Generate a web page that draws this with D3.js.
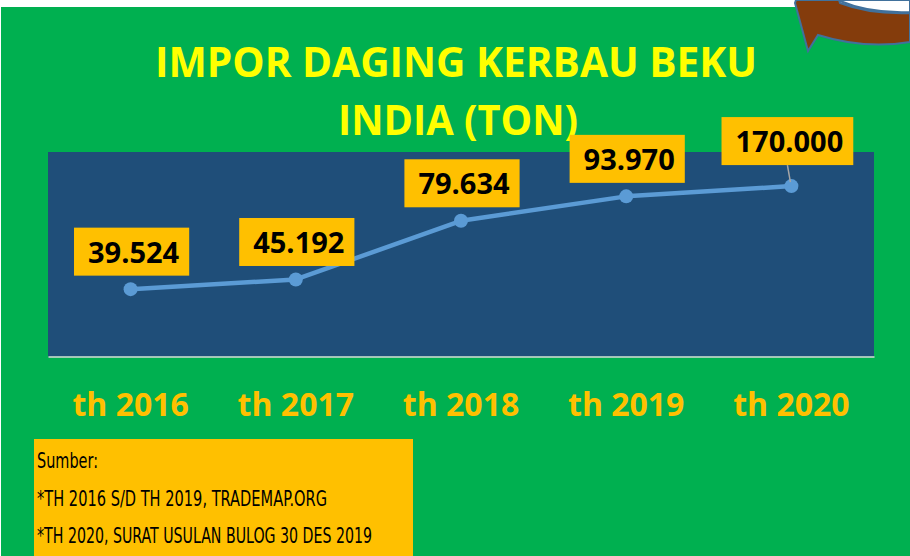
<!DOCTYPE html>
<html>
<head>
<meta charset="utf-8">
<script src="https://cdn.jsdelivr.net/npm/d3@7"></script>
<style>
  html, body { margin: 0; padding: 0; background: #ffffff; }
  svg { display: block; }
</style>
</head>
<body>
<svg id="chart" width="910" height="556"></svg>
<script>
// ---- data ----
const categories = ["th 2016", "th 2017", "th 2018", "th 2019", "th 2020"];
// point positions as drawn in the reference (2020 is plotted at ~100.000)
const plottedValues = [39524, 45192, 79634, 93970, 100000];
// values printed in the data labels
const labelValues = [39524, 45192, 79634, 93970, 170000];
const yDomain = [0, 120000];
const titleLines = ["IMPOR DAGING KERBAU BEKU", "INDIA (TON)"];
const sourceLines = ["Sumber:", "*TH 2016 S/D TH 2019, TRADEMAP.ORG", "*TH 2020, SURAT USULAN BULOG 30 DES 2019"];

// ---- drawing ----
const svg = d3.select("#chart");
const W = 910, H = 556;
const GREEN = "#00B050", PLOT = "#1F4E79", ORANGE = "#FFC000", LINE = "#5B9BD5";
const idLocale = d3.formatLocale({decimal: ",", thousands: ".", grouping: [3], currency: ["Rp", ""]});
const fmt = idLocale.format(",");

svg.append("rect").attr("x", 0).attr("y", 0).attr("width", W).attr("height", H).attr("fill", "#ffffff");
svg.append("rect").attr("x", 1).attr("y", 7).attr("width", W - 1).attr("height", H - 7).attr("fill", GREEN);

// decorative arrow (top right)
svg.append("path")
  .attr("d", "M838,0 C858,9 884,13 910,12 L910,0 Z")
  .attr("fill", "#ffffff").attr("stroke", "#41719C").attr("stroke-width", 2);
svg.append("path")
  .attr("d", "M795,3 L808,51 L818,35 C850,45 880,47 910,42 L910,13 C880,14 858,10 840,3 L839,0 L796,0 Z")
  .attr("fill", "#843C0C").attr("stroke", "#41719C").attr("stroke-width", 2).attr("stroke-linejoin", "miter");

// title
const title = svg.append("g").attr("font-family", "'Open Sans', sans-serif").attr("font-weight", "bold")
  .attr("fill", "#FFFF00").attr("text-anchor", "middle");
title.append("text").attr("x", 456).attr("y", 77).attr("font-size", 42)
  .attr("textLength", 602).attr("lengthAdjust", "spacingAndGlyphs").text(titleLines[0]);
title.append("text").attr("x", 458).attr("y", 135).attr("font-size", 42)
  .attr("textLength", 240).attr("lengthAdjust", "spacingAndGlyphs").text(titleLines[1]);

// plot area
const plotL = 48, plotR = 874, plotT = 152, plotB = 356.5;
svg.append("rect").attr("x", plotL).attr("y", plotT).attr("width", plotR - plotL).attr("height", plotB - plotT).attr("fill", PLOT);

const x = d3.scaleBand().domain(categories).range([plotL, plotR]);
const y = d3.scaleLinear().domain(yDomain).range([plotB, plotT]);

// x axis
const xAxis = svg.append("g").attr("transform", `translate(0,${plotB})`)
  .call(d3.axisBottom(x).tickSize(0).tickPadding(37));
xAxis.select(".domain").attr("stroke", "#D9D9D9").attr("stroke-width", 1.5);
xAxis.selectAll("text")
  .attr("font-family", "'Open Sans', sans-serif").attr("font-weight", "bold")
  .attr("font-size", 32).attr("fill", ORANGE);

const cx = d => x(d) + x.bandwidth() / 2;
const pts = categories.map((c, i) => ({c, v: plottedValues[i], lab: labelValues[i], i}));

// line
svg.append("path").datum(pts)
  .attr("d", d3.line().x(d => cx(d.c)).y(d => y(d.v)))
  .attr("fill", "none").attr("stroke", LINE).attr("stroke-width", 4.5).attr("stroke-linejoin", "round");
svg.selectAll("circle.pt").data(pts).join("circle").attr("class", "pt")
  .attr("cx", d => cx(d.c)).attr("cy", d => y(d.v)).attr("r", 7).attr("fill", LINE);

// data labels
const boxH = 48;
const labels = svg.selectAll("g.lab").data(pts).join("g").attr("class", "lab");
labels.each(function(d) {
  const g = d3.select(this);
  const last = d.i === pts.length - 1;
  const px = cx(d.c), py = y(d.v);
  const bx = last ? px - 4 : px + 1;
  const bottom = last ? py - 21 : py - 13.5;
  const t = g.append("text").attr("font-family", "'Open Sans', sans-serif").attr("font-weight", "bold")
    .attr("font-size", 29).attr("fill", "#000").attr("text-anchor", "middle")
    .text(fmt(d.lab));
  const tw = t.node().getComputedTextLength();
  const bw = tw + 24;
  if (last) {
    g.insert("line", "text").attr("x1", bx).attr("y1", bottom).attr("x2", px - 1).attr("y2", py - 4)
      .attr("stroke", "#A6A6A6").attr("stroke-width", 1.5);
  }
  g.insert("rect", "text").attr("x", bx - bw / 2).attr("y", bottom - boxH).attr("width", bw).attr("height", boxH)
    .attr("fill", ORANGE);
  t.attr("x", bx + 2).attr("y", bottom - boxH / 2 + 11);
});

// source box
svg.append("rect").attr("x", 34).attr("y", 439).attr("width", 379).attr("height", H - 439).attr("fill", ORANGE);
const srcW = [61, 290, 335];
const src = svg.append("g").attr("font-family", "'DejaVu Sans Condensed', 'Liberation Sans', sans-serif")
  .attr("font-size", 21).attr("fill", "#000");
sourceLines.forEach((s, i) => {
  src.append("text").attr("x", 37).attr("y", 468 + i * 37.5)
    .attr("textLength", srcW[i]).attr("lengthAdjust", "spacingAndGlyphs").text(s);
});
</script>
</body>
</html>
